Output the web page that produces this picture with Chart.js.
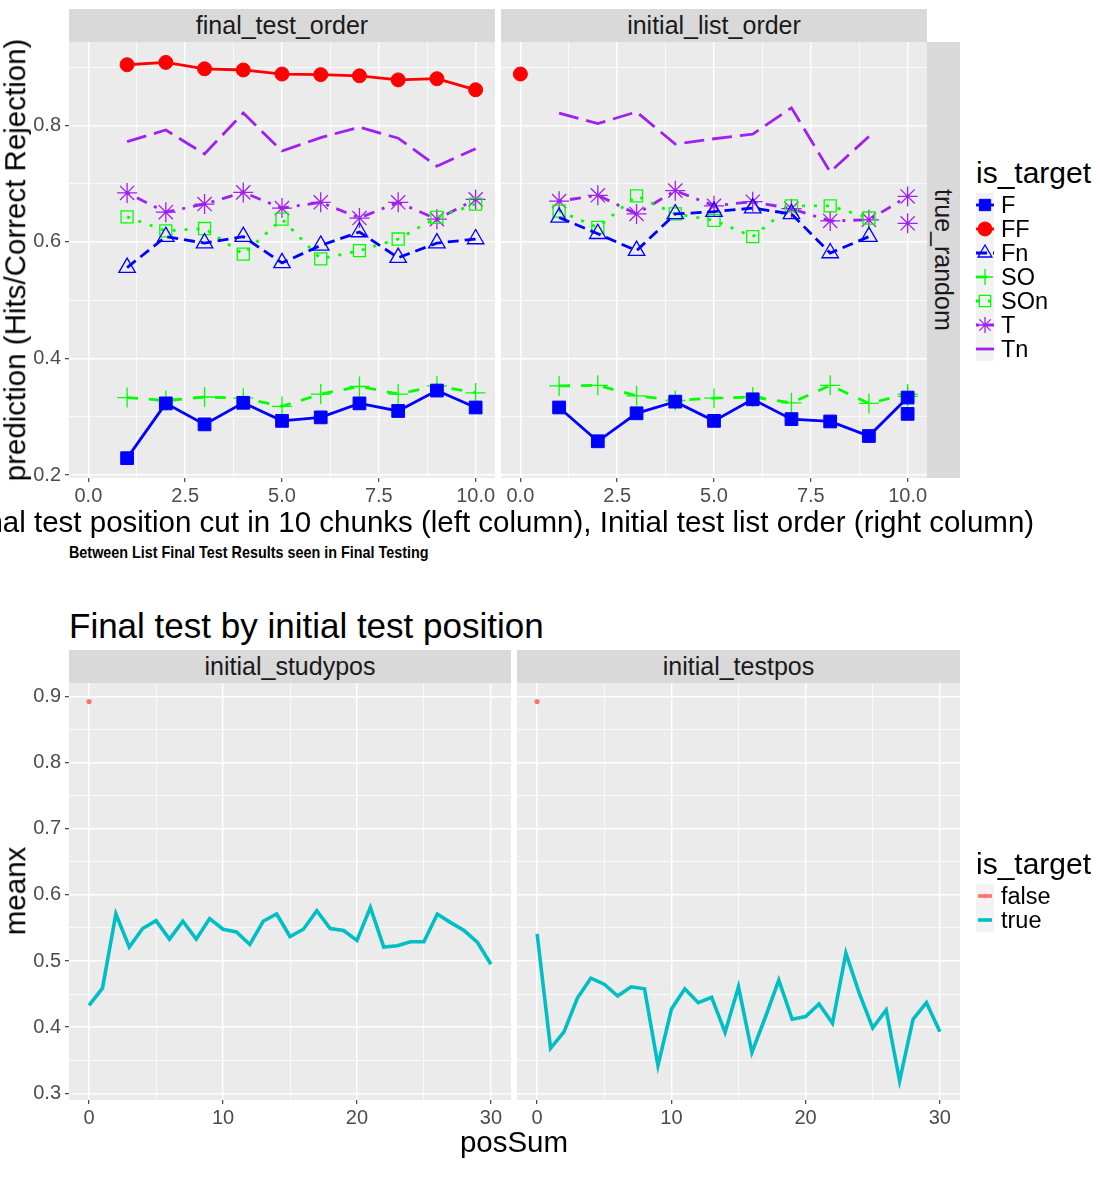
<!DOCTYPE html>
<html>
<head>
<meta charset="utf-8">
<title>Final test results</title>
<script src="https://cdn.jsdelivr.net/npm/chart.js@4.4.1/dist/chart.umd.min.js"></script>
<style>
  body { margin: 0; width: 1100px; height: 1200px; position: relative; overflow: hidden; background: #fff;
         font-family: 'Liberation Sans', Arial, Helvetica, sans-serif; color: #000; }
  canvas { position: absolute; }
  .strip { position: absolute; background: #d9d9d9; color: #1a1a1a; font-size: 25px;
           display: flex; align-items: center; justify-content: center; line-height: 1; }
  .strip.vert span { writing-mode: vertical-rl; }
  .txt { position: absolute; white-space: nowrap; line-height: 1; }
  .ytitle { transform: translate(-50%, -50%) rotate(-90deg); font-size: 29.5px; }
  .xtitle { transform: translate(-50%, -50%); font-size: 29.5px; }
  .legend { position: absolute; }
  .legend .ttl { font-size: 30px; line-height: 1; height: 35px; }
  .legend .row { display: flex; align-items: center; height: 24px; font-size: 23.5px; }
  .legend canvas { position: static; margin-right: 7px; }
</style>
</head>
<body>

<div class="strip" style="left:69px;top:9px;width:426px;height:33px">final_test_order</div>
<div class="strip" style="left:501px;top:9px;width:426px;height:33px">initial_list_order</div>
<div class="strip vert" style="left:927px;top:42px;width:33px;height:436px"><span>true_random</span></div>

<canvas id="topLeft"></canvas>
<canvas id="topRight"></canvas>

<div class="txt ytitle" style="left:15px;top:260px">prediction (Hits/Correct Rejection)</div>
<div class="txt xtitle" style="left:498px;top:522px">Final test position cut in 10 chunks (left column), Initial test list order (right column)</div>
<div class="txt" style="left:69px;top:552px;font-size:17px;font-weight:bold;transform:translateY(-50%) scaleX(0.845);transform-origin:left center">Between List Final Test Results seen in Final Testing</div>
<div class="legend" id="legendTop" style="left:976px;top:158px"></div>

<div class="txt" style="left:69px;top:625px;font-size:35px;transform:translateY(-50%)">Final test by initial test position</div>
<div class="strip" style="left:69px;top:650px;width:442px;height:33px">initial_studypos</div>
<div class="strip" style="left:517px;top:650px;width:443px;height:33px">initial_testpos</div>

<canvas id="bottomLeft"></canvas>
<canvas id="bottomRight"></canvas>

<div class="txt ytitle" style="left:15px;top:891px">meanx</div>
<div class="txt xtitle" style="left:514px;top:1142px">posSum</div>
<div class="legend" id="legendBottom" style="left:976px;top:849px"></div>

<script>
// ---- data, top plot (true_random) ----
const chunkPos = [1, 2, 3, 4, 5, 6, 7, 8, 9, 10];
const chunkPos9 = [1, 2, 3, 4, 5, 6, 7, 8, 9];
const extraPos = [10];
const firstPos = [0];

// final_test_order
const finalF   = [0.229, 0.323, 0.287, 0.324, 0.293, 0.299, 0.323, 0.310, 0.345, 0.316];
const finalFF  = [0.904, 0.908, 0.897, 0.895, 0.888, 0.887, 0.885, 0.878, 0.880, 0.861];
const finalFn  = [0.556, 0.609, 0.598, 0.609, 0.564, 0.594, 0.617, 0.573, 0.598, 0.605];
const finalSO  = [0.333, 0.328, 0.334, 0.332, 0.318, 0.339, 0.352, 0.339, 0.353, 0.341];
const finalSOn = [0.643, 0.619, 0.623, 0.579, 0.639, 0.571, 0.585, 0.605, 0.642, 0.665];
const finalT   = [0.684, 0.651, 0.665, 0.685, 0.658, 0.668, 0.641, 0.668, 0.639, 0.673];
const finalTn  = [0.772, 0.792, 0.751, 0.821, 0.756, 0.779, 0.797, 0.778, 0.730, 0.760];

// initial_list_order
const listF   = [0.316, 0.258, 0.306, 0.326, 0.293, 0.330, 0.296, 0.292, 0.267, 0.333];
const listFExtra = [0.305];
const listFF  = [0.888];
const listFn  = [0.642, 0.614, 0.585, 0.648, 0.652, 0.658, 0.648, 0.581, 0.609];
const listSO  = [0.353, 0.354, 0.336, 0.328, 0.332, 0.334, 0.324, 0.354, 0.323, 0.339];
const listSOExtra = [0.335];
const listSOn = [0.653, 0.625, 0.679, 0.648, 0.637, 0.609, 0.662, 0.662, 0.641];
const listT   = [0.670, 0.680, 0.648, 0.688, 0.662, 0.669, 0.657, 0.636, 0.638, 0.678];
const listTExtra = [0.632];
const listTn  = [0.821, 0.803, 0.823, 0.768, 0.777, 0.785, 0.830, 0.720, 0.781];

const targetLevels = ['F', 'FF', 'Fn', 'SO', 'SOn', 'T', 'Tn'];

// ---- data, bottom plot ----
const posSum = [0, 1, 2, 3, 4, 5, 6, 7, 8, 9, 10, 11, 12, 13, 14, 15, 16, 17, 18, 19, 20,
                21, 22, 23, 24, 25, 26, 27, 28, 29, 30];
const studyTrue = [0.433, 0.459, 0.571, 0.521, 0.549, 0.561, 0.533, 0.560, 0.533, 0.564, 0.548,
                   0.544, 0.525, 0.560, 0.571, 0.537, 0.548, 0.576, 0.549, 0.546, 0.531,
                   0.581, 0.521, 0.523, 0.529, 0.529, 0.571, 0.558, 0.546, 0.528, 0.495];
const studyFalse = [0.892];
const testTrue = [0.541, 0.368, 0.393, 0.444, 0.474, 0.465, 0.447, 0.461, 0.458, 0.342, 0.427,
                  0.458, 0.437, 0.445, 0.392, 0.461, 0.362, 0.415, 0.471, 0.412, 0.416,
                  0.435, 0.406, 0.512, 0.451, 0.399, 0.426, 0.319, 0.412, 0.437, 0.393];
const testFalse = [0.892];
const boolLevels = ['false', 'true'];

// ---- ticks ----
const topXMajor = [0, 2.5, 5, 7.5, 10];
const topXLabels = ['0.0', '2.5', '5.0', '7.5', '10.0'];
const topXMinor = [1.25, 3.75, 6.25, 8.75];
const topYMajor = [0.2, 0.4, 0.6, 0.8];
const topYLabels = ['0.2', '0.4', '0.6', '0.8'];
const topYMinor = [0.3, 0.5, 0.7, 0.9];
const botXMajor = [0, 10, 20, 30];
const botXLabels = ['0', '10', '20', '30'];
const botXMinor = [5, 15, 25];
const botYMajor = [0.3, 0.4, 0.5, 0.6, 0.7, 0.8, 0.9];
const botYLabels = ['0.3', '0.4', '0.5', '0.6', '0.7', '0.8', '0.9'];
const botYMinor = [0.35, 0.45, 0.55, 0.65, 0.75, 0.85];

// look of each is_target level
const looks = {
  F:   {color: '#0000ff', dash: [],           point: 'rect',     r: 9,   fill: true},
  FF:  {color: '#ff0000', dash: [],           point: 'circle',   r: 7,   fill: true},
  Fn:  {color: '#0000ff', dash: [11, 6],      point: 'triangle', r: 9.5, fill: false},
  SO:  {color: '#00ff00', dash: [11, 11],     point: 'cross',    r: 10,  fill: false},
  SOn: {color: '#00ff00', dash: [3, 9],       point: 'rect',     r: 8.5, fill: false},
  T:   {color: '#a020f0', dash: [3, 8, 11, 8], point: 'star',    r: 10,  fill: false},
  Tn:  {color: '#a020f0', dash: [20, 8],      point: false,      r: 0,   fill: false}
};
const boolColors = {false: '#f8766d', true: '#00bfc4'};

const FONT = "'Liberation Sans', Arial, sans-serif";

function series(key, xs, ys, line) {
  const s = looks[key];
  return {
    data: xs.map((x, i) => ({x: x, y: ys[i]})),
    showLine: line !== false,
    borderColor: s.color,
    borderWidth: 2.8,
    borderDash: s.dash,
    pointStyle: s.point || 'circle',
    pointRadius: s.r,
    pointHoverRadius: s.r,
    pointBackgroundColor: s.fill ? s.color : 'rgba(0,0,0,0)',
    pointBorderColor: s.color,
    pointBorderWidth: s.fill ? 1 : 1.3,
    tension: 0,
    fill: false
  };
}

function boolSeries(level, xs, ys) {
  const isFalse = level === 'false';
  return {
    data: xs.map((x, i) => ({x: x, y: ys[i]})),
    showLine: !isFalse,
    borderColor: boolColors[level],
    borderWidth: 3.6,
    pointRadius: isFalse ? 2.6 : 0,
    pointHoverRadius: isFalse ? 2.6 : 0,
    pointBackgroundColor: boolColors[level],
    pointBorderColor: boolColors[level],
    pointBorderWidth: 0,
    tension: 0,
    fill: false
  };
}

function makeAxis(majors, labels, minors, min, max, size, showLabels, isX) {
  const all = majors.concat(minors).sort((a, b) => a - b);
  const isMajor = v => majors.indexOf(v) >= 0;
  return {
    type: 'linear',
    min: min,
    max: max,
    afterBuildTicks: ax => { ax.ticks = all.map(v => ({value: v})); },
    afterFit: ax => {
      if (isX) ax.height = size; else ax.width = size;
      ax.paddingLeft = 0; ax.paddingRight = 0; ax.paddingTop = 0; ax.paddingBottom = 0;
    },
    ticks: {
      display: showLabels,
      autoSkip: false,
      maxRotation: 0,
      minRotation: 0,
      padding: isX ? 2 : 4,
      color: '#4d4d4d',
      font: {family: FONT, size: 20},
      callback: v => { const i = majors.indexOf(v); return i >= 0 ? labels[i] : ''; }
    },
    grid: {
      color: '#ffffff',
      lineWidth: c => (c.tick && isMajor(c.tick.value)) ? 1.4 : 0.7,
      drawTicks: showLabels,
      tickLength: 4,
      tickWidth: 1.1,
      tickColor: c => (c.tick && isMajor(c.tick.value)) ? '#333333' : 'rgba(0,0,0,0)'
    },
    border: {display: false}
  };
}

// grey panel background
const panelBg = {
  id: 'panelBg',
  beforeDraw(chart) {
    const a = chart.chartArea;
    const ctx = chart.ctx;
    ctx.save();
    ctx.fillStyle = '#ebebeb';
    ctx.fillRect(a.left, a.top, a.right - a.left, a.bottom - a.top);
    ctx.restore();
  }
};

// plot = page box of the panel; yAxisW / xAxisH = room for the axes
function makePanel(id, plot, yAxisW, xAxisH, xAxis, yAxis, datasets) {
  const padT = 10, padR = 25, padB = 10;
  const cv = document.getElementById(id);
  const w = yAxisW + plot.w + padR;
  const h = padT + plot.h + xAxisH + padB;
  cv.width = w; cv.height = h;
  cv.style.width = w + 'px'; cv.style.height = h + 'px';
  cv.style.left = (plot.x - yAxisW) + 'px';
  cv.style.top = (plot.y - padT) + 'px';
  return new Chart(cv, {
    type: 'line',
    data: {datasets: datasets},
    options: {
      responsive: false,
      animation: false,
      layout: {autoPadding: false, padding: {left: 0, top: padT, right: padR, bottom: padB}},
      plugins: {legend: {display: false}, tooltip: {enabled: false}},
      scales: {x: xAxis, y: yAxis}
    },
    plugins: [panelBg]
  });
}

// ---- top plot ----
const topXMin = -0.5, topXMax = 10.5, topYMin = 0.195, topYMax = 0.943;

makePanel('topLeft', {x: 69, y: 42, w: 426, h: 436}, 69, 30,
  makeAxis(topXMajor, topXLabels, topXMinor, topXMin, topXMax, 30, true, true),
  makeAxis(topYMajor, topYLabels, topYMinor, topYMin, topYMax, 69, true, false),
  [
    series('F', chunkPos, finalF),
    series('FF', chunkPos, finalFF),
    series('Fn', chunkPos, finalFn),
    series('SO', chunkPos, finalSO),
    series('SOn', chunkPos, finalSOn),
    series('T', chunkPos, finalT),
    series('Tn', chunkPos, finalTn)
  ]);

makePanel('topRight', {x: 501, y: 42, w: 426, h: 436}, 6, 30,
  makeAxis(topXMajor, topXLabels, topXMinor, topXMin, topXMax, 30, true, true),
  makeAxis(topYMajor, topYLabels, topYMinor, topYMin, topYMax, 6, false, false),
  [
    series('F', chunkPos, listF),
    series('F', extraPos, listFExtra, false),
    series('FF', firstPos, listFF),
    series('Fn', chunkPos9, listFn),
    series('SO', chunkPos, listSO),
    series('SO', extraPos, listSOExtra, false),
    series('SOn', chunkPos9, listSOn),
    series('T', chunkPos, listT),
    series('T', extraPos, listTExtra, false),
    series('Tn', chunkPos9, listTn)
  ]);

// ---- bottom plot ----
const botXMin = -1.5, botXMax = 31.5, botYMin = 0.290, botYMax = 0.920;

makePanel('bottomLeft', {x: 69, y: 683, w: 442, h: 417}, 69, 30,
  makeAxis(botXMajor, botXLabels, botXMinor, botXMin, botXMax, 30, true, true),
  makeAxis(botYMajor, botYLabels, botYMinor, botYMin, botYMax, 69, true, false),
  [boolSeries('false', firstPos, studyFalse), boolSeries('true', posSum, studyTrue)]);

makePanel('bottomRight', {x: 517, y: 683, w: 443, h: 417}, 6, 30,
  makeAxis(botXMajor, botXLabels, botXMinor, botXMin, botXMax, 30, true, true),
  makeAxis(botYMajor, botYLabels, botYMinor, botYMin, botYMax, 6, false, false),
  [boolSeries('false', firstPos, testFalse), boolSeries('true', posSum, testTrue)]);

// ---- legends ----
const drawPt = (Chart.helpers && Chart.helpers.drawPoint) ? Chart.helpers.drawPoint : null;

function buildLegend(el, title, levels, drawKey) {
  const t = document.createElement('div');
  t.className = 'ttl';
  t.textContent = title;
  el.appendChild(t);
  levels.forEach(lv => {
    const row = document.createElement('div');
    row.className = 'row';
    const cv = document.createElement('canvas');
    cv.width = 18; cv.height = 24;
    const ctx = cv.getContext('2d');
    ctx.fillStyle = '#f2f2f2';
    ctx.fillRect(0, 0, 18, 24);
    drawKey(ctx, lv);
    row.appendChild(cv);
    const s = document.createElement('span');
    s.textContent = lv;
    row.appendChild(s);
    el.appendChild(row);
  });
}

buildLegend(document.getElementById('legendTop'), 'is_target', targetLevels, (ctx, lv) => {
  const s = looks[lv];
  ctx.strokeStyle = s.color;
  ctx.lineWidth = 2.8;
  ctx.setLineDash(s.dash);
  ctx.beginPath(); ctx.moveTo(0, 12); ctx.lineTo(18, 12); ctx.stroke();
  ctx.setLineDash([]);
  if (s.point && drawPt) {
    ctx.fillStyle = s.fill ? s.color : 'rgba(0,0,0,0)';
    ctx.lineWidth = s.fill ? 1 : 1.3;
    drawPt(ctx, {pointStyle: s.point, radius: Math.min(s.r, 8), rotation: 0, borderWidth: 1}, 9, 12);
  }
});

buildLegend(document.getElementById('legendBottom'), 'is_target', boolLevels, (ctx, lv) => {
  ctx.strokeStyle = boolColors[lv];
  ctx.lineWidth = 3.6;
  ctx.beginPath(); ctx.moveTo(2, 12); ctx.lineTo(16, 12); ctx.stroke();
  if (lv === 'false') {
    ctx.fillStyle = boolColors[lv];
    ctx.beginPath(); ctx.arc(9, 12, 2.2, 0, Math.PI * 2); ctx.fill();
  }
});
</script>
</body>
</html>
